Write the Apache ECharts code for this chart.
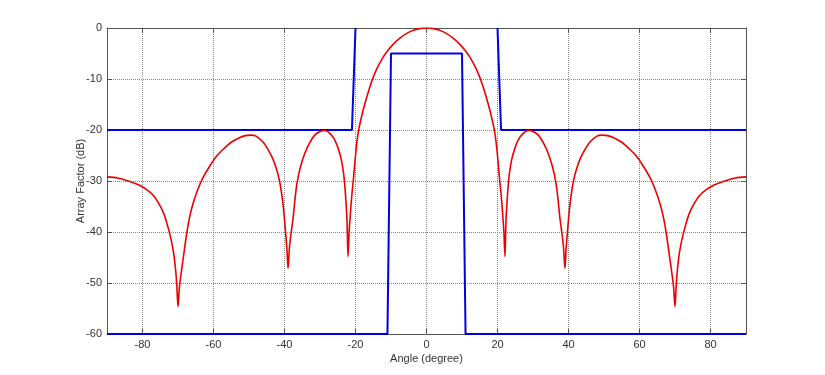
<!DOCTYPE html>
<html>
<head>
<meta charset="utf-8">
<script src="https://cdn.jsdelivr.net/npm/echarts@6/dist/echarts.min.js"></script>
<style>
  html, body { margin: 0; padding: 0; background: #fff; }
  #af { width: 825px; height: 375px; }
</style>
</head>
<body>
<div id="af"></div>
<script>
// angle ticks
var xTicks = [-80, -60, -40, -20, 0, 20, 40, 60, 80];

// array factor (red)
var angle = [
  -90, -87, -84, -81, -79, -77, -75.5, -74, -73, -72, -71.2, -70.6, -70.3, -70,
  -69.6, -69.1, -68.5, -67.6, -66.7, -65.8, -64.5, -63, -61, -59, -57, -55, -53, -51, -49.5, -48,
  -46, -44.5, -43.2, -42.2, -41.4, -40.7, -40.2, -39.7, -39.3, -39,
  -38.6, -38.1, -37.6, -37, -36.5, -35.6, -34.3, -33, -31.5, -30, -28.7, -27.3, -25.9, -24.8, -24,
  -23.4, -23, -22.7, -22.4, -22.1,
  -21.8, -21.4, -21, -20.5, -20, -19.5, -19, -18.3, -17.5, -16.5, -15.3, -14, -12.3, -11, -9.4, -7.5,
  -5.7, -3.5, -1.5, 0,
  1.5, 3.5, 5.7, 7.5, 9.4, 11, 12.3, 14, 15.3, 16.5, 17.5, 18.3, 19, 19.5, 20, 20.5, 21, 21.4, 21.8,
  22.1, 22.4, 22.7, 23, 23.4,
  24, 24.8, 25.9, 27.3, 28.7, 30, 31.5, 33, 34.3, 35.6, 36.5, 37, 37.6, 38.1, 38.6,
  39, 39.3, 39.7, 40.2, 40.7, 41.4, 42.2, 43.2, 44.5, 46,
  48, 49.5, 51, 53, 55, 57, 59, 61, 63, 64.5, 65.8, 66.7, 67.6, 68.5, 69.1, 69.6,
  70, 70.3, 70.6, 71.2, 72, 73, 74, 75.5, 77, 79, 81, 84, 87, 90
];
var afDb = [
  -29.2, -29.4, -30.0, -30.8, -31.6, -32.8, -34.3, -36.4, -38.6, -41.3, -44.3, -48.0, -51.0, -54.6,
  -50.8, -48.0, -45.0, -40.5, -37.0, -34.5, -31.8, -29.4, -27.0, -25.0, -23.6, -22.4, -21.6, -21.1, -21.0, -21.2,
  -22.4, -24.0, -25.8, -27.8, -30.0, -33.0, -36.0, -40.0, -43.5, -47.1,
  -43.0, -40.0, -37.4, -33.3, -30.5, -27.5, -24.6, -22.6, -21.0, -20.3, -20.1, -20.6, -21.9, -23.8, -25.8,
  -28.3, -31.0, -34.0, -37.6, -44.8,
  -40.0, -36.0, -32.5, -29.0, -25.0, -21.8, -19.6, -17.4, -15.2, -12.8, -10.2, -8.0, -5.8, -4.5, -3.2, -2.0,
  -1.1, -0.4, -0.07, 0,
  -0.07, -0.4, -1.1, -2.0, -3.2, -4.5, -5.8, -8.0, -10.2, -12.8, -15.2, -17.4, -19.6, -21.8, -25.0, -29.0, -32.5, -36.0, -40.0,
  -44.8, -37.6, -34.0, -31.0, -28.3,
  -25.8, -23.8, -21.9, -20.6, -20.1, -20.3, -21.0, -22.6, -24.6, -27.5, -30.5, -33.3, -37.4, -40.0, -43.0,
  -47.1, -43.5, -40.0, -36.0, -33.0, -30.0, -27.8, -25.8, -24.0, -22.4,
  -21.2, -21.0, -21.1, -21.6, -22.4, -23.6, -25.0, -27.0, -29.4, -31.8, -34.5, -37.0, -40.5, -45.0, -48.0, -50.8,
  -54.6, -51.0, -48.0, -44.3, -41.3, -38.6, -36.4, -34.3, -32.8, -31.6, -30.8, -30.0, -29.4, -29.2
];

// mask (blue)
var upperLeftX = [-90, -21, -20];
var upperLeftY = [-20, -20, 0];
var upperRightX = [20, 21, 90];
var upperRightY = [0, -20, -20];
var lowerX = [-90, -11, -10, 10, 11, 90];
var lowerY = [-60, -60, -5, -5, -60, -60];

function pairs (xs, ys) {
  var out = [];
  for (var i = 0; i < xs.length; i++) {
    out.push([xs[i], ys[i]]);
  }
  return out;
}

var myChart = echarts.init(document.getElementById('af'));

var fontFamily = '"Liberation Sans", Arial, sans-serif';
var axisColor = '#555';

option = {
  backgroundColor: '#fff',
  animation: false,
  grid: {
    left: 107,
    right: 79,
    top: 28,
    bottom: 41
  },
  xAxis: [{
    type: 'value',
    min: -90,
    max: 90,
    name: 'Angle (degree)',
    nameLocation: 'middle',
    nameGap: 19,
    nameMoveOverlap: false,
    nameTextStyle: { color: '#333', fontSize: 11, fontFamily: fontFamily },
    axisLine: { show: true, onZero: false, lineStyle: { color: axisColor, width: 1 } },
    axisTick: { show: true, inside: true, length: 5, customValues: xTicks, lineStyle: { color: axisColor } },
    axisLabel: { customValues: xTicks, color: '#333', fontSize: 11, fontFamily: fontFamily, margin: 5 },
    splitLine: { show: true, lineStyle: { color: '#888', type: 'dotted', width: 1 } }
  }, {
    type: 'value',
    position: 'top',
    min: -90,
    max: 90,
    axisLine: { show: true, onZero: false, lineStyle: { color: axisColor, width: 1 } },
    axisTick: { show: true, inside: true, length: 5, customValues: xTicks, lineStyle: { color: axisColor } },
    axisLabel: { show: false },
    splitLine: { show: false }
  }],
  yAxis: [{
    type: 'value',
    min: -60,
    max: 0,
    interval: 10,
    name: 'Array Factor (dB)',
    nameLocation: 'middle',
    nameGap: 21,
    nameMoveOverlap: false,
    nameTextStyle: { color: '#333', fontSize: 11, fontFamily: fontFamily },
    axisLine: { show: true, onZero: false, lineStyle: { color: axisColor, width: 1 } },
    axisTick: { show: true, inside: true, length: 5, lineStyle: { color: axisColor } },
    axisLabel: { color: '#333', fontSize: 11, fontFamily: fontFamily, margin: 5 },
    splitLine: { show: true, lineStyle: { color: '#888', type: 'dotted', width: 1 } }
  }, {
    type: 'value',
    position: 'right',
    min: -60,
    max: 0,
    interval: 10,
    axisLine: { show: true, onZero: false, lineStyle: { color: axisColor, width: 1 } },
    axisTick: { show: true, inside: true, length: 5, lineStyle: { color: axisColor } },
    axisLabel: { show: false },
    splitLine: { show: false }
  }],
  series: [{
    name: 'mask',
    type: 'line',
    data: pairs(upperLeftX, upperLeftY),
    showSymbol: false,
    clip: false,
    lineStyle: { color: '#0000e0', width: 2 },
    z: 3
  }, {
    name: 'mask',
    type: 'line',
    data: pairs(upperRightX, upperRightY),
    showSymbol: false,
    clip: false,
    lineStyle: { color: '#0000e0', width: 2 },
    z: 3
  }, {
    name: 'mask',
    type: 'line',
    data: pairs(lowerX, lowerY),
    showSymbol: false,
    clip: false,
    lineStyle: { color: '#0000e0', width: 2 },
    z: 3
  }, {
    name: 'AF',
    type: 'line',
    data: pairs(angle, afDb),
    showSymbol: false,
    smooth: 0.3,
    lineStyle: { color: '#ee0000', width: 1.6 },
    z: 4
  }]
};

myChart.setOption(option);
window.addEventListener('resize', function () {
  myChart.resize();
});
</script>
</body>
</html>
